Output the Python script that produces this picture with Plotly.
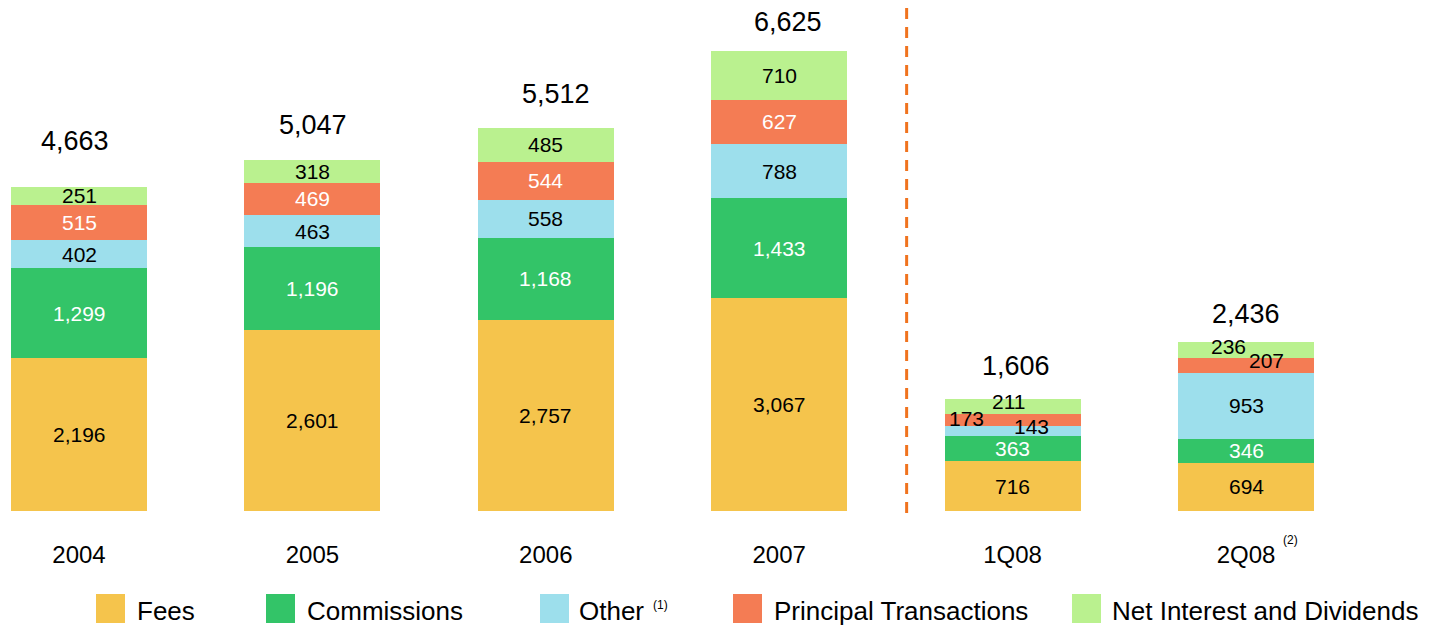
import plotly.graph_objects as go

# ---------------- data ----------------
categories = ["2004", "2005", "2006", "2007", "1Q08", "2Q08"]
fees = [2196, 2601, 2757, 3067, 716, 694]
commissions = [1299, 1196, 1168, 1433, 363, 346]
other = [402, 463, 558, 788, 143, 953]
principal = [515, 469, 544, 627, 173, 207]
net_interest = [251, 318, 485, 710, 211, 236]
totals = [4663, 5047, 5512, 6625, 1606, 2436]
series_names = ["Fees", "Commissions", "Other", "Principal Transactions",
                "Net Interest and Dividends"]
series_values = [fees, commissions, other, principal, net_interest]

# ---------------- style ----------------
OFF = 8                     # page body margin of the browser
W, H = 1431 - OFF, 626 - OFF
M_T, M_B = 0, 115
PLOT_H = H - M_T - M_B
FONT = "Liberation Sans, Arial, sans-serif"
colors = ["#F5C44C", "#33C468", "#9DDFEC", "#F47C54", "#BAF18F"]
label_colors = ["black", "white", "black", "white", "black"]
# per-label overrides (series index, bar index) -> (dx px, dy px, colour)
label_tweaks = {
    (2, 4): (19, 5, "black"),
    (3, 4): (-46, 2, "black"),
    (4, 4): (-4, 5, "black"),
    (3, 5): (20, 5, "black"),
    (4, 5): (-18, 3, "black"),
}
total_lift = [46, 35.5, 34, 29, 33, 28]   # px between bar top and total label centre
total_dx = [-4.5, 1, 10, 9, 3, 0]          # px horizontal nudge of total labels

x_idx = list(range(len(categories)))
fig = go.Figure()
for name, vals, col in zip(series_names, series_values, colors):
    fig.add_trace(go.Bar(x=x_idx, y=vals, name=name, marker_color=col,
                         marker_line_width=0, width=0.583, showlegend=False,
                         hoverinfo="name+y"))

annotations = []
# segment labels
for bi in x_idx:
    base = 0
    for si, vals in enumerate(series_values):
        v = vals[bi]
        mid = base + v / 2
        base += v
        dx, dy, col = label_tweaks.get((si, bi), (0, 0, label_colors[si]))
        annotations.append(dict(x=bi, y=mid, xref="x", yref="y", text=f"{v:,}",
                                showarrow=False, xanchor="center", yanchor="middle",
                                xshift=dx, yshift=dy,
                                font=dict(family=FONT, size=21, color=col)))
# totals
for bi, t in enumerate(totals):
    annotations.append(dict(x=bi, y=t, xref="x", yref="y", text=f"{t:,}",
                            showarrow=False, xanchor="center", yanchor="middle",
                            yshift=total_lift[bi], xshift=total_dx[bi],
                            font=dict(family=FONT, size=27, color="black")))


def py(p):
    return (H - M_B - (p - OFF)) / PLOT_H


def px(p):
    return (p - OFF) / W


# footnote marker on 2Q08 tick
annotations.append(dict(x=5, y=py(540), xref="x", yref="paper", text="(2)",
                        showarrow=False, xanchor="center", yanchor="middle",
                        xshift=44, font=dict(family=FONT, size=12, color="black")))

# custom legend
shapes = []
leg_sq = [96, 266, 540, 733, 1072]
leg_txt = [137, 307, 579, 774, 1112]
for name, col, sx, tx in zip(series_names, colors, leg_sq, leg_txt):
    shapes.append(dict(type="rect", xref="paper", yref="paper",
                       x0=px(sx), x1=px(sx + 29), y0=py(594), y1=py(623),
                       fillcolor=col, line_width=0))
    annotations.append(dict(x=px(tx - 2), y=py(611), xref="paper", yref="paper",
                            text=name, showarrow=False, xanchor="left",
                            yanchor="middle",
                            font=dict(family=FONT, size=26, color="black")))
annotations.append(dict(x=px(651), y=py(605), xref="paper", yref="paper",
                        text="(1)", showarrow=False, xanchor="left",
                        yanchor="middle",
                        font=dict(family=FONT, size=12, color="black")))

# dashed separator between annual and quarterly data
shapes.append(dict(type="line", xref="x", yref="paper", x0=3.546, x1=3.546,
                   y0=py(8), y1=py(517),
                   line=dict(color="#F0731E", width=3, dash="11px,8px")))

SPACING = 233.4
x0 = -(79 - OFF) / SPACING
fig.update_layout(
    barmode="stack",
    width=W, height=H,
    margin=dict(l=0, r=0, t=M_T, b=M_B),
    paper_bgcolor="white", plot_bgcolor="white",
    showlegend=False,
    xaxis=dict(range=[x0, x0 + W / SPACING], tickvals=x_idx, ticktext=categories,
               showgrid=False, zeroline=False, showline=False, ticks="",
               ticklabelstandoff=27,
               tickfont=dict(family=FONT, size=24, color="black")),
    yaxis=dict(range=[0, PLOT_H / 0.06946], visible=False, showgrid=False,
               zeroline=False),
    annotations=annotations,
    shapes=shapes,
)

fig.write_html("out.html")
